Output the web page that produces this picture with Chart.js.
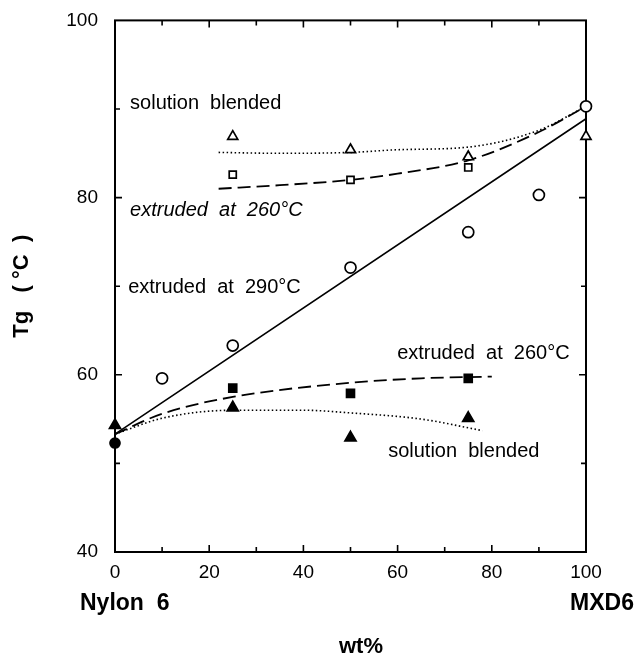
<!DOCTYPE html>
<html>
<head>
<meta charset="utf-8">
<script src="https://cdn.jsdelivr.net/npm/chart.js@4.4.0/dist/chart.umd.min.js"></script>
<style>
  html, body { margin: 0; padding: 0; background: #fff; }
  canvas { display: block; }
</style>
</head>
<body>
<canvas id="tg" width="635" height="659"></canvas>
<script>
// MXD6 content (wt%) and Tg (°C)
const xTicks = [0, 20, 40, 60, 80, 100];
const yTicks = [40, 60, 80, 100];

// extruded at 290°C - open circles, plus neat nylon 6 (filled circle)
const ext290X = [10, 25, 50, 75, 90, 100];
const ext290Y = [59.6, 63.3, 72.1, 76.1, 80.3, 90.3];
const nylonX = [0];
const nylonY = [52.3];

// upper set: solution blended (open triangles), extruded at 260°C (open squares)
const solOpenX = [25, 50, 75, 100];
const solOpenY = [86.9, 85.4, 84.6, 86.9];
const ext260OpenX = [25, 50, 75];
const ext260OpenY = [82.6, 82.0, 83.4];

// lower set: extruded at 260°C (filled squares), solution blended (filled triangles)
const ext260FillX = [25, 50, 75];
const ext260FillY = [58.5, 57.9, 59.6];
const solFillX = [0, 25, 50, 75];
const solFillY = [54.3, 56.3, 52.9, 55.1];

// drawn curves
const fit290X = [0, 100];
const fit290Y = [53.3, 88.9];
const upDotX = [22, 35, 50, 60, 75, 90, 100];
const upDotY = [85.1, 85.0, 85.1, 85.4, 85.7, 87.6, 90.3];
const upDashX = [22, 35, 50, 60, 75, 90, 100];
const upDashY = [81.0, 81.4, 82.0, 82.7, 84.2, 87.4, 90.3];
const lowDashX = [0, 10, 25, 50, 65, 80];
const lowDashY = [53.3, 55.6, 57.5, 59.1, 59.6, 59.8];
const lowDotX = [0, 10, 25, 40, 50, 65, 78];
const lowDotY = [53.3, 55.1, 56.0, 56.0, 55.7, 55.0, 53.7];

const FONT = '"Liberation Sans", Arial, Helvetica, sans-serif';

function pts(xs, ys) {
  return xs.map((x, i) => ({ x: x, y: ys[i] }));
}

function curve(xs, ys, dash, width) {
  return {
    data: pts(xs, ys),
    showLine: true,
    borderColor: '#000',
    borderWidth: width,
    borderDash: dash,
    pointRadius: 0,
    cubicInterpolationMode: 'monotone',
    fill: false,
    clip: false,
    order: 2
  };
}

function marks(xs, ys, style, radius, filled) {
  return {
    data: pts(xs, ys),
    showLine: false,
    pointStyle: style,
    pointRadius: radius,
    pointBorderWidth: 1.7,
    pointBorderColor: '#000',
    pointBackgroundColor: filled ? '#000' : '#fff',
    clip: false,
    order: 1
  };
}

// text placed inside the plot, anchored in data coordinates
const notes = [
  { text: 'solution  blended', x: 3.2, y: 90.6, italic: false },
  { text: 'extruded  at  260°C', x: 3.2, y: 78.5, italic: true },
  { text: 'extruded  at  290°C', x: 2.8, y: 69.8, italic: false },
  { text: 'extruded  at  260°C', x: 59.9, y: 62.4, italic: false },
  { text: 'solution  blended', x: 58.0, y: 51.4, italic: false }
];

// frame, inward ticks on all four sides and the extra labels
const framePlugin = {
  id: 'frame',
  beforeDatasetsDraw(chart) {
    const ctx = chart.ctx;
    const a = chart.chartArea;
    const sx = chart.scales.x, sy = chart.scales.y;
    ctx.save();
    ctx.strokeStyle = '#000';
    ctx.lineWidth = 2;
    ctx.strokeRect(a.left, a.top, a.right - a.left, a.bottom - a.top);

    ctx.lineWidth = 1.6;
    ctx.beginPath();
    for (let v = 10; v < 100; v += 10) {
      const px = sx.getPixelForValue(v);
      const len = v % 20 === 0 ? 7 : 5;
      ctx.moveTo(px, a.bottom); ctx.lineTo(px, a.bottom - len);
      ctx.moveTo(px, a.top); ctx.lineTo(px, a.top + len);
    }
    for (let v = 50; v < 100; v += 10) {
      const py = sy.getPixelForValue(v);
      const len = v % 20 === 0 ? 7 : 5;
      ctx.moveTo(a.left, py); ctx.lineTo(a.left + len, py);
      ctx.moveTo(a.right, py); ctx.lineTo(a.right - len, py);
    }
    ctx.stroke();

    ctx.fillStyle = '#000';
    ctx.textBaseline = 'middle';
    ctx.textAlign = 'left';
    notes.forEach(n => {
      ctx.font = (n.italic ? 'italic ' : '') + '20px ' + FONT;
      ctx.fillText(n.text, sx.getPixelForValue(n.x), sy.getPixelForValue(n.y));
    });

    ctx.font = 'bold 23px ' + FONT;
    ctx.textAlign = 'left';
    ctx.fillText('Nylon  6', 80, 604);
    ctx.textAlign = 'right';
    ctx.fillText('MXD6', 634, 604);
    ctx.font = 'bold 22px ' + FONT;
    ctx.textAlign = 'center';
    ctx.fillText('wt%', 361, 647);
    ctx.restore();
  }
};

new Chart(document.getElementById('tg'), {
  type: 'scatter',
  data: {
    datasets: [
      curve(fit290X, fit290Y, [], 1.6),
      curve(upDotX, upDotY, [1.5, 2.5], 1.6),
      curve(upDashX, upDashY, [13, 6], 1.8),
      curve(lowDashX, lowDashY, [13, 6], 1.8),
      curve(lowDotX, lowDotY, [1.5, 2.5], 1.6),
      marks(ext290X, ext290Y, 'circle', 5.5, false),
      marks(nylonX, nylonY, 'circle', 5, true),
      marks(solOpenX, solOpenY, 'triangle', 5.8, false),
      marks(ext260OpenX, ext260OpenY, 'rect', 5, false),
      marks(ext260FillX, ext260FillY, 'rect', 5.6, true),
      marks(solFillX, solFillY, 'triangle', 6.4, true)
    ]
  },
  options: {
    responsive: false,
    animation: false,
    layout: { padding: { top: 16, right: 49, bottom: 0, left: 0 } },
    plugins: { legend: { display: false }, tooltip: { enabled: false } },
    scales: {
      x: {
        type: 'linear',
        min: 0,
        max: 100,
        afterFit(s) { s.height = 107; },
        afterBuildTicks(s) { s.ticks = xTicks.map(v => ({ value: v })); },
        grid: { display: false },
        border: { display: false },
        ticks: { color: '#000', font: { family: FONT, size: 19 }, padding: 1, maxRotation: 0 }
      },
      y: {
        type: 'linear',
        min: 40,
        max: 100,
        afterFit(s) { s.width = 115; },
        afterBuildTicks(s) { s.ticks = yTicks.map(v => ({ value: v })); },
        grid: { display: false },
        border: { display: false },
        ticks: { color: '#000', font: { family: FONT, size: 19 }, padding: 9 },
        title: {
          display: true,
          text: 'Tg   ( °C  )',
          color: '#000',
          font: { family: FONT, size: 22, weight: 'bold' },
          padding: { top: 9, bottom: 0 }
        }
      }
    }
  },
  plugins: [framePlugin]
});
</script>
</body>
</html>
